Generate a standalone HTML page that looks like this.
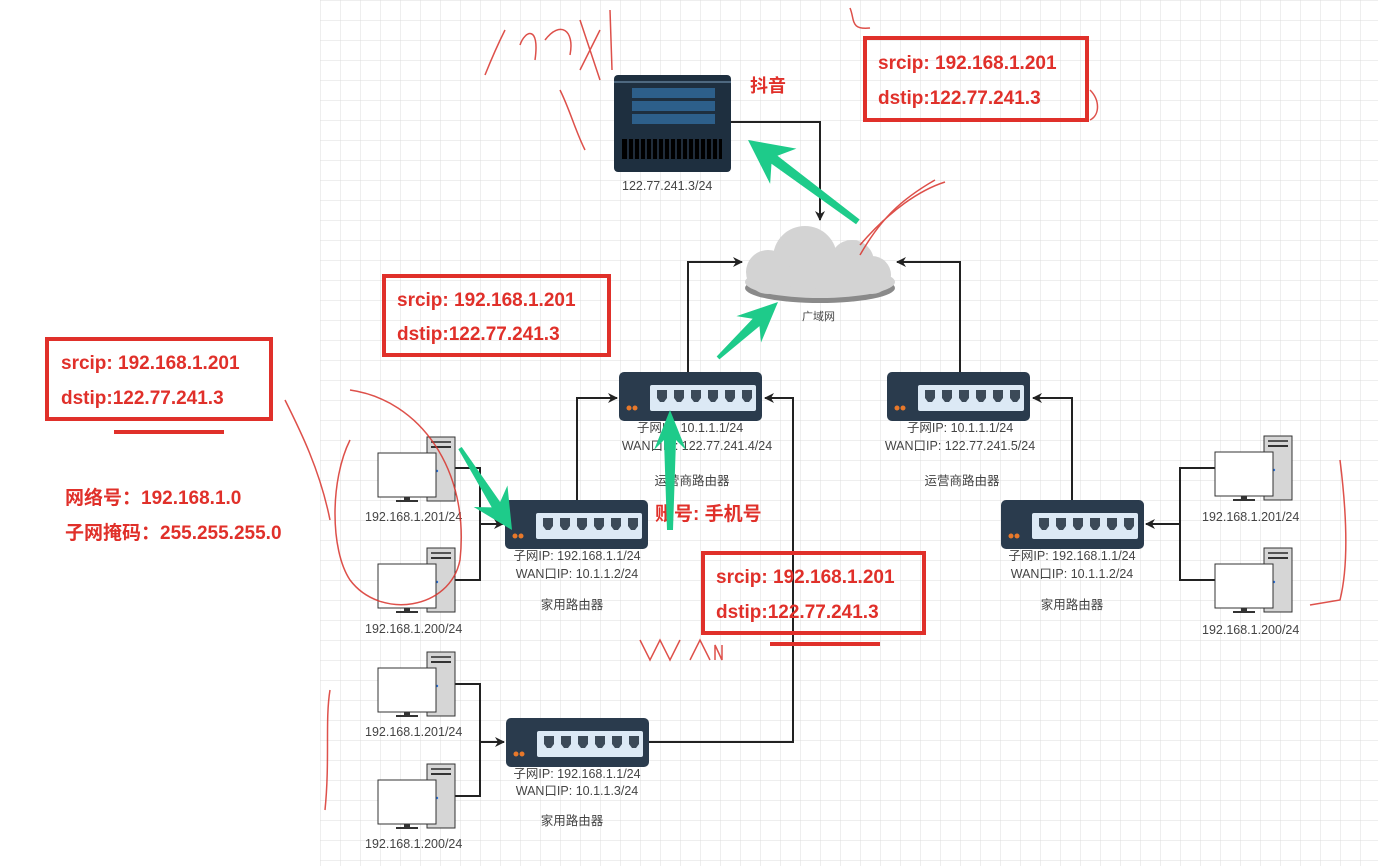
<!DOCTYPE html>
<html><head><meta charset="utf-8"><style>
html,body{margin:0;padding:0;background:#fff;}
svg{display:block;font-family:"Liberation Sans","Noto Sans CJK SC",sans-serif;}
.lbl{font-size:12.5px;fill:#444;}
.red{fill:#e0302a;font-weight:bold;font-size:19px;}
</style></head><body>
<svg width="1378" height="866" viewBox="0 0 1378 866" xmlns="http://www.w3.org/2000/svg">
<defs>
<pattern id="grid" width="20" height="20" patternUnits="userSpaceOnUse" x="320" y="40">
<path d="M20 0H0V20" fill="none" stroke="#dcdcdc" stroke-width="1"/>
</pattern>
<g id="router">
<rect x="0" y="0" width="143" height="49" rx="5" fill="#2a3b4d"/>
<rect x="31" y="13" width="106" height="26" rx="2" fill="#dce9f5"/>
<g fill="#3c4a58">
<path d="M38 18h10v8l-3 4h-4l-3-4z"/><path d="M55 18h10v8l-3 4h-4l-3-4z"/><path d="M72 18h10v8l-3 4h-4l-3-4z"/>
<path d="M89 18h10v8l-3 4h-4l-3-4z"/><path d="M106 18h10v8l-3 4h-4l-3-4z"/><path d="M123 18h10v8l-3 4h-4l-3-4z"/>
</g>
<circle cx="10" cy="36" r="2.5" fill="#e8782a"/><circle cx="16" cy="36" r="2.5" fill="#e8782a"/>
</g>
<g id="pc">
<rect x="49" y="0" width="28" height="64" fill="#d6d6d6" stroke="#333" stroke-width="1"/>
<rect x="53" y="4" width="20" height="2" fill="#555"/><rect x="53" y="9" width="20" height="2" fill="#333"/>
<circle cx="59" cy="34" r="1.2" fill="#2a6fd6"/>
<rect x="0" y="16" width="58" height="44" fill="#fff" stroke="#333" stroke-width="1"/>
<rect x="26" y="60" width="6" height="4" fill="#333"/><rect x="18" y="63" width="22" height="2" fill="#333"/>
</g>
<marker id="ar" markerWidth="10" markerHeight="10" refX="9" refY="5" orient="auto" markerUnits="userSpaceOnUse">
<path d="M0 0L10 5L0 10L3 5z" fill="#222"/>
</marker>
</defs>
<rect x="320" y="0" width="1058" height="866" fill="url(#grid)"/>

<!-- connectors -->
<g fill="none" stroke="#222" stroke-width="2">
<path d="M731 122H820V220" marker-end="url(#ar)"/>
<path d="M688 372V262H742" marker-end="url(#ar)"/>
<path d="M960 372V262H897" marker-end="url(#ar)"/>
<path d="M577 500V398H617" marker-end="url(#ar)"/>
<path d="M649 742H793V398H765" marker-end="url(#ar)"/>
<path d="M1072 500V398H1033" marker-end="url(#ar)"/>
<path d="M1215 468H1180V580H1215M1180 524H1146" marker-end="url(#ar)"/>
<path d="M455 468H480V580H455M480 524H503" marker-end="url(#ar)"/>
<path d="M455 684H480V796H455M480 742H504" marker-end="url(#ar)"/>
</g>

<!-- server -->
<rect x="614" y="75" width="117" height="97" rx="4" fill="#1e2f3f"/>
<line x1="614" y1="82" x2="731" y2="82" stroke="#7fa0bf" stroke-width="1"/>
<rect x="632" y="88" width="83" height="10" fill="#2d5f8a"/><rect x="632" y="101" width="83" height="10" fill="#2d5f8a"/><rect x="632" y="114" width="83" height="10" fill="#2d5f8a"/>
<rect x="622" y="139" width="100" height="20" fill="#000"/>
<g stroke="#2a3b4d" stroke-width="1.5"><path d="M628 139v20M634 139v20M640 139v20M646 139v20M652 139v20M658 139v20M664 139v20M670 139v20M676 139v20M682 139v20M688 139v20M694 139v20M700 139v20M706 139v20M712 139v20M718 139v20"/></g>
<text x="622" y="190" class="lbl">122.77.241.3/24</text>
<text x="750" y="92" class="red" style="font-size:18px">抖音</text>

<!-- cloud -->
<g fill="#8a8a8a"><ellipse cx="820" cy="288" rx="75" ry="15"/></g>
<g fill="#d3d3d3">
<ellipse cx="820" cy="282" rx="75" ry="16"/><circle cx="805" cy="258" r="32"/><circle cx="852" cy="262" r="22"/><circle cx="872" cy="275" r="19"/><circle cx="768" cy="272" r="22"/>
</g>
<text x="802" y="320" class="lbl" style="font-size:11px">广域网</text>

<!-- routers -->
<use href="#router" x="619" y="372"/>
<use href="#router" x="887" y="372"/>
<use href="#router" x="505" y="500"/>
<use href="#router" x="1001" y="500"/>
<use href="#router" x="506" y="718"/>

<g class="lbl" text-anchor="middle">
<text x="690" y="432">子网IP:   10.1.1.1/24</text>
<text x="697" y="450">WAN口IP: 122.77.241.4/24</text>
<text x="692" y="485">运营商路由器</text>
<text x="960" y="432">子网IP:   10.1.1.1/24</text>
<text x="960" y="450">WAN口IP:  122.77.241.5/24</text>
<text x="962" y="485">运营商路由器</text>
<text x="577" y="560">子网IP:   192.168.1.1/24</text>
<text x="577" y="578">WAN口IP: 10.1.1.2/24</text>
<text x="572" y="609">家用路由器</text>
<text x="1072" y="560">子网IP:   192.168.1.1/24</text>
<text x="1072" y="578">WAN口IP: 10.1.1.2/24</text>
<text x="1072" y="609">家用路由器</text>
<text x="577" y="778">子网IP:   192.168.1.1/24</text>
<text x="577" y="795">WAN口IP: 10.1.1.3/24</text>
<text x="572" y="825">家用路由器</text>
</g>

<!-- PCs -->
<use href="#pc" x="378" y="437"/><use href="#pc" x="378" y="548"/>
<use href="#pc" x="378" y="652"/><use href="#pc" x="378" y="764"/>
<use href="#pc" x="1215" y="436"/><use href="#pc" x="1215" y="548"/>
<g class="lbl">
<text x="365" y="521">192.168.1.201/24</text><text x="365" y="633">192.168.1.200/24</text>
<text x="365" y="736">192.168.1.201/24</text><text x="365" y="848">192.168.1.200/24</text>
<text x="1202" y="521">192.168.1.201/24</text><text x="1202" y="634">192.168.1.200/24</text>
</g>

<!-- red boxes -->
<g fill="none" stroke="#e0302a" stroke-width="4">
<rect x="865" y="38" width="222" height="82"/>
<rect x="384" y="276" width="225" height="79"/>
<rect x="47" y="339" width="224" height="80"/>
<rect x="703" y="553" width="221" height="80"/>
</g>
<g class="red">
<text x="878" y="69">srcip: 192.168.1.201</text><text x="878" y="104">dstip:122.77.241.3</text>
<text x="397" y="306">srcip: 192.168.1.201</text><text x="397" y="340">dstip:122.77.241.3</text>
<text x="61" y="369">srcip: 192.168.1.201</text><text x="61" y="404">dstip:122.77.241.3</text>
<text x="716" y="583">srcip: 192.168.1.201</text><text x="716" y="618">dstip:122.77.241.3</text>
<text x="65" y="504">网络号：192.168.1.0</text>
<text x="65" y="539">子网掩码：255.255.255.0</text>
<text x="655" y="520">账号: 手机号</text>
</g>
<g stroke="#e0302a" stroke-width="4"><line x1="114" y1="432" x2="224" y2="432"/><line x1="770" y1="644" x2="880" y2="644"/></g>

<!-- red scribbles (hand annotations) -->
<g fill="none" stroke="#d8322b" stroke-width="1.5" opacity="0.85">
<path d="M485 75C495 50 500 40 505 30M520 45C525 30 540 25 535 60M545 40C560 20 575 30 570 55M580 20L600 80M600 30L580 70M610 10L612 70"/>
<path d="M560 90C570 110 575 130 585 150M860 245C890 210 920 190 945 182M640 640L650 660L660 640L670 660L680 640M690 660L700 640L710 660M715 660V645L722 660V645"/>
<path d="M935 180C900 200 880 220 860 255"/>
<path d="M1340 460C1345 500 1350 560 1340 600L1310 605"/>
<path d="M330 690C325 720 330 760 325 810"/>
<path d="M285 400C300 430 320 470 330 520"/>
<path d="M350 390C420 400 470 470 460 560C450 610 380 620 350 580C330 550 330 480 350 440"/>
<path d="M850 8C855 20 850 30 870 28M1090 90C1100 100 1100 115 1090 120"/>
</g>

<!-- green arrows -->
<g fill="#1ecb8a">
<polygon transform="translate(748,140) rotate(216.7)" points="0,0 -44,-22 -33,-5 -137,-3 -137,3 -33,5 -44,22"/>
<polygon transform="translate(778,302) rotate(-43)" points="0,0 -40,-18 -30,-5 -82,-2 -82,2 -30,5 -40,18"/>
<polygon transform="translate(670,410) rotate(-90)" points="0,0 -40,-16 -30,-6 -120,-3 -120,3 -30,6 -40,16"/>
<polygon transform="translate(512,530) rotate(57.6)" points="0,0 -40,-20 -30,-5 -97,-2 -97,2 -30,5 -40,20"/>
</g>
</svg>
</body></html>
